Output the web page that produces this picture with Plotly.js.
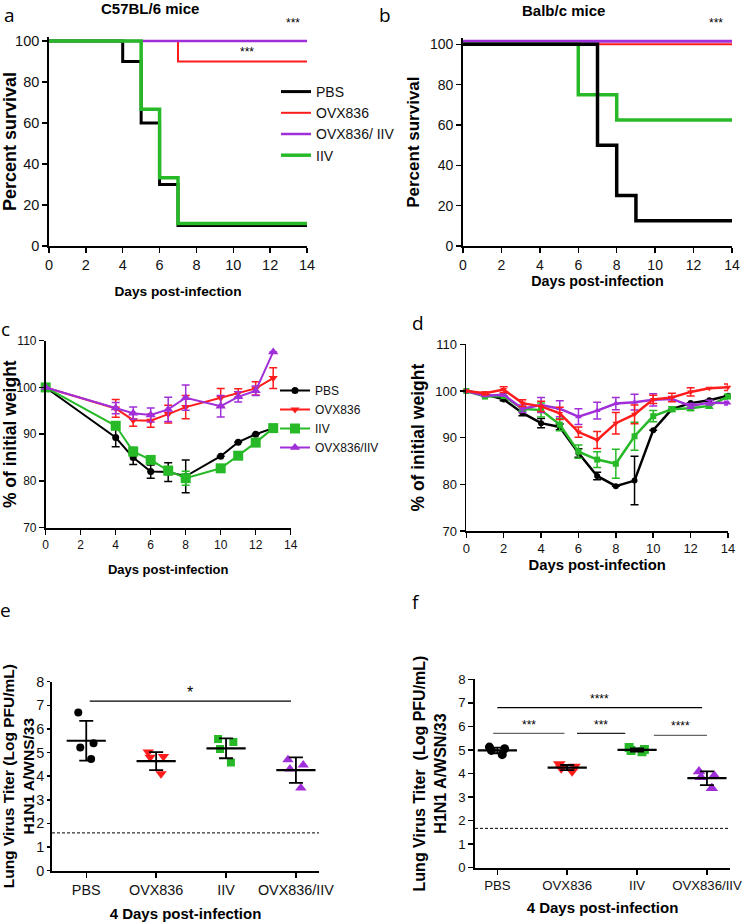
<!DOCTYPE html>
<html>
<head>
<meta charset="utf-8">
<script src="https://cdn.plot.ly/plotly-3.0.1.min.js"></script>
<style>
  html, body { margin: 0; padding: 0; background: #fff; }
  #fig { width: 747px; height: 924px; }
</style>
</head>
<body>
<div id="fig"></div>
<script>
"use strict";

// ---- colours (GraphPad style) ----
const cBlack = '#000000', cRed = '#ff1c1c', cPurple = '#a12fd9', cGreen = '#27b927';

// ---- a: survival, C57BL/6 ----
const aPbsX = [0, 4, 5, 6, 7, 14],  aPbsY = [100, 90, 60, 30, 10, 10];
const aOvxX = [0, 7, 14],           aOvxY = [100, 90, 90];
const aComboX = [0, 14],            aComboY = [100, 100];
const aIivX = [0, 5, 6, 7, 14],     aIivY = [100, 66.7, 33.3, 11, 11];

// ---- b: survival, Balb/c ----
const bPbsX = [0, 7, 8, 9, 14],     bPbsY = [100, 50, 25, 12.5, 12.5];
const bOvxX = [0, 14],              bOvxY = [100, 100];
const bComboX = [0, 14],            bComboY = [101.5, 101.5];
const bIivX = [0, 6, 8, 14],        bIivY = [100, 75, 62.5, 62.5];

// ---- c: weight, C57BL/6 ----
const cDays = [0, 4, 5, 6, 7, 8, 10, 11, 12, 13];
const cPbs   = [100, 89.3, 85.0, 82.0, 81.9, 81.0, 85.3, 88.3, 90.0, 91.3];
const cPbsE  = [0, 2.0, 1.5, 1.4, 2.0, 3.5, 0, 0, 0, 0];
const cOvx   = [100, 95.5, 93.0, 92.9, 94.3, 95.8, 97.8, 98.8, 99.8, 102.0];
const cOvxE  = [0, 1.9, 1.3, 1.4, 1.9, 2.5, 2.0, 0.9, 1.4, 2.2];
const cIiv   = [100, 91.8, 86.3, 84.5, 82.2, 80.6, 82.7, 85.4, 88.2, 91.3];
const cIivE  = [0, 0.7, 0.9, 0.7, 0.9, 1.5, 0, 0, 0, 0];
const cCombo = [100, 95.6, 94.5, 94.1, 95.3, 97.8, 96.0, 98.0, 99.3, 107.6];
const cComboE= [0, 1.2, 1.3, 1.5, 2.6, 2.7, 2.3, 1.1, 1.0, 0];

// ---- d: weight, Balb/c ----
const dDays = [0, 1, 2, 3, 4, 5, 6, 7, 8, 9, 10, 11, 12, 13, 14];
const dPbs   = [100, 99.3, 98.2, 95.3, 93.1, 92.3, 86.7, 81.8, 79.6, 80.8, 91.6, 96.1, 97.4, 98.0, 99.0];
const dPbsE  = [0, 0, 0.3, 0.6, 1.0, 0.6, 0.9, 0.8, 0, 5.2, 0, 0, 0, 0, 0];
const dOvx   = [100, 99.5, 100.3, 97.4, 96.7, 95.2, 91.2, 89.5, 93.1, 95.0, 98.2, 98.6, 99.8, 100.6, 100.8];
const dOvxE  = [0, 0.3, 0.6, 0.7, 1.1, 1.3, 1.1, 1.8, 2.3, 2.0, 0.9, 0.9, 0.9, 0, 0.7];
const dIiv   = [100, 98.8, 98.9, 96.2, 95.9, 92.8, 87.0, 85.3, 84.4, 90.3, 94.6, 96.1, 96.3, 96.8, 98.8];
const dIivE  = [0, 0, 0, 0.5, 1.5, 1.3, 1.4, 1.7, 3.1, 3.0, 1.2, 0.5, 0.5, 0.5, 0.5];
const dCombo = [100, 99.0, 99.2, 96.2, 97.0, 96.2, 94.5, 95.8, 97.3, 97.6, 98.1, 98.3, 96.8, 97.5, 97.4];
const dComboE= [0, 0, 0.3, 0.8, 1.6, 1.7, 1.7, 1.8, 1.3, 1.7, 1.3, 0.5, 0.5, 0.5, 0.4];

// ---- e / f: lung titers ----
const groups = ['PBS', 'OVX836', 'IIV', 'OVX836/IIV'];
const ePbs = [6.7, 5.39, 5.21, 4.73], eOvx = [4.8, 4.83, 5.02, 4.1];
const eIiv = [5.57, 5.45, 5.15, 4.58], eCombo = [4.47, 4.7, 4.3, 3.5];
const eMean = [5.5, 4.64, 5.18, 4.26], eSd = [0.84, 0.38, 0.42, 0.54];
const eLimit = 1.6;
const eSig = [{from: 0.05, to: 2.93, y: 7.18, label: '*'}];

const fPbs = [4.8, 4.98, 5.05, 5.12], fOvx = [4.1, 4.22, 4.3, 4.4];
const fIiv = [4.92, 4.98, 5.02, 5.1], fCombo = [3.37, 3.84, 3.9, 4.08];
const fMean = [4.98, 4.25, 5.0, 3.8], fSd = [0.12, 0.11, 0.07, 0.29];
const fLimit = 1.67;
const fSig = [
  {from: 0,     to: 2.93, y: 6.8,  label: '****', color: '#000'},
  {from: -0.06, to: 0.96, y: 5.7,  label: '***',  color: '#666'},
  {from: 1.14,  to: 1.83, y: 5.7,  label: '***',  color: '#222'},
  {from: 2.24,  to: 3.0,  y: 5.62, label: '****', color: '#666'}
];

// ---- geometry helpers (page pixels -> paper fractions) ----
const W = 747, H = 924;
const xd = (l, r) => [l / W, r / W];
const yd = (t, b) => [1 - b / H, 1 - t / H];
const px = v => v / W, py = v => 1 - v / H;

const FONT = 'Liberation Sans, Arial, sans-serif';

function axis(tick, extra) {
  return Object.assign({
    showline: true, linecolor: '#000', linewidth: 1.8,
    ticks: 'outside', ticklen: 5, tickwidth: 1.5, tickcolor: '#000',
    showgrid: false, zeroline: false, fixedrange: true,
    tickfont: {family: FONT, size: tick, color: '#111'}
  }, extra);
}
function atitle(text, size, standoff) {
  return {text: text, font: {family: FONT, size: size, color: '#000', weight: 'bold'}, standoff: standoff};
}

const traces = [];

// survival step lines
function surv(x, y, color, width, name, xa, ya, legend) {
  traces.push({x: x, y: y, type: 'scatter', mode: 'lines', line: {shape: 'hv', color: color, width: width},
    name: name, xaxis: xa, yaxis: ya, showlegend: !!legend, legend: 'legend', hoverinfo: 'skip'});
}
surv(aPbsX, aPbsY, cBlack, 3, 'PBS', 'x', 'y', true);
surv(aOvxX, aOvxY, cRed, 2, 'OVX836', 'x', 'y', true);
surv(aComboX, aComboY, cPurple, 2.5, 'OVX836/ IIV', 'x', 'y', true);
surv(aIivX, aIivY, cGreen, 3.5, 'IIV', 'x', 'y', true);
surv(bComboX, bComboY, cPurple, 3, 'OVX836/ IIV', 'x2', 'y2', false);
surv(bOvxX, bOvxY, cRed, 2, 'OVX836', 'x2', 'y2', false);
surv(bIivX, bIivY, cGreen, 3.5, 'IIV', 'x2', 'y2', false);
surv(bPbsX, bPbsY, cBlack, 3.5, 'PBS', 'x2', 'y2', false);

// weight curves
function weight(x, y, e, color, symbol, size, name, xa, ya, legend, lw) {
  traces.push({x: x, y: y, type: 'scatter', mode: 'lines+markers', name: name,
    line: {color: color, width: lw},
    marker: {color: color, symbol: symbol, size: size},
    error_y: {type: 'data', array: e, visible: true, color: color, thickness: 1.5, width: 4},
    xaxis: xa, yaxis: ya, showlegend: !!legend, legend: 'legend2', cliponaxis: false, hoverinfo: 'skip'});
}
weight(cDays, cPbs, cPbsE, cBlack, 'circle', 7, 'PBS', 'x3', 'y3', true, 2);
weight(cDays, cOvx, cOvxE, cRed, 'triangle-down', 8, 'OVX836', 'x3', 'y3', true, 2);
weight(cDays, cIiv, cIivE, cGreen, 'square', 10, 'IIV', 'x3', 'y3', true, 2);
weight(cDays, cCombo, cComboE, cPurple, 'triangle-up', 9, 'OVX836/IIV', 'x3', 'y3', true, 2);

weight(dDays, dPbs, dPbsE, cBlack, 'circle', 6, 'PBS', 'x4', 'y4', false, 2.5);
weight(dDays, dIiv, dIivE, cGreen, 'square', 6, 'IIV', 'x4', 'y4', false, 2.5);
weight(dDays, dCombo, dComboE, cPurple, 'triangle-up', 6, 'OVX836/IIV', 'x4', 'y4', false, 2.5);
weight(dDays, dOvx, dOvxE, cRed, 'triangle-down', 6, 'OVX836', 'x4', 'y4', false, 2.5);

// titer dot plots: points jittered by the box trace, box itself hidden
function dots(vals, group, color, symbol, size, xa, ya) {
  traces.push({type: 'box', x: vals.map(() => group), y: vals, boxpoints: 'all', jitter: 0.55, pointpos: 0,
    fillcolor: 'rgba(0,0,0,0)', line: {width: 0, color: 'rgba(0,0,0,0)'}, whiskerwidth: 0,
    marker: {color: color, symbol: symbol, size: size}, xaxis: xa, yaxis: ya, showlegend: false, hoverinfo: 'skip'});
}
function meanSd(mean, sd, xa, ya) {
  traces.push({type: 'scatter', mode: 'markers', x: groups, y: mean, xaxis: xa, yaxis: ya,
    marker: {symbol: 'line-ew', size: 28, color: '#000', line: {width: 2.2, color: '#000'}},
    error_y: {type: 'data', array: sd, visible: true, color: '#000', thickness: 1.8, width: 7},
    showlegend: false, hoverinfo: 'skip', cliponaxis: false});
}
dots(ePbs, 'PBS', cBlack, 'circle', 8, 'x5', 'y5');
dots(eOvx, 'OVX836', cRed, 'triangle-down', 10, 'x5', 'y5');
dots(eIiv, 'IIV', cGreen, 'square', 8, 'x5', 'y5');
dots(eCombo, 'OVX836/IIV', cPurple, 'triangle-up', 10, 'x5', 'y5');
meanSd(eMean, eSd, 'x5', 'y5');

dots(fPbs, 'PBS', cBlack, 'circle', 9, 'x6', 'y6');
dots(fOvx, 'OVX836', cRed, 'triangle-down', 11, 'x6', 'y6');
dots(fIiv, 'IIV', cGreen, 'square', 9, 'x6', 'y6');
dots(fCombo, 'OVX836/IIV', cPurple, 'triangle-up', 11, 'x6', 'y6');
meanSd(fMean, fSd, 'x6', 'y6');

// ---- shapes + annotations ----
const shapes = [];
const annotations = [];
function note(text, x, y, size, extra) {
  annotations.push(Object.assign({text: text, x: x, y: y, xref: 'paper', yref: 'paper', showarrow: false,
    font: {family: FONT, size: size, color: '#000'}, xanchor: 'center', yanchor: 'middle'}, extra || {}));
}

[[eLimit, 'x5', 'y5'], [fLimit, 'x6', 'y6']].forEach(([lvl, xa, ya]) => {
  shapes.push({type: 'line', xref: xa + ' domain', yref: ya, x0: 0, x1: 1, y0: lvl, y1: lvl,
    line: {color: '#000', width: 1, dash: '3px,2px'}});
});
function sig(list, xa, ya, size) {
  list.forEach(s => {
    shapes.push({type: 'line', xref: xa, yref: ya, x0: s.from, x1: s.to, y0: s.y, y1: s.y,
      line: {color: s.color || '#000', width: 1.2}});
    annotations.push({text: s.label, xref: xa, yref: ya, x: (s.from + s.to) / 2, y: s.y + 0.38,
      showarrow: false, font: {family: FONT, size: size, color: '#000'}});
  });
}
sig(eSig, 'x5', 'y5', 16);
sig(fSig, 'x6', 'y6', 12);

// significance stars on survival panels (above the plot area, so paper coords)
note('***', px(293), py(23), 12);
note('***', px(247), py(52), 12);
note('***', px(716), py(23), 12);

// panel titles and letters
note('<b>C57BL/6 mice</b>', px(150), py(9), 15);
note('<b>Balb/c mice</b>', px(563), py(10), 15);
const LET = {family: 'Open Sans, sans-serif', size: 19, color: '#000'};
note('a', px(9), 1, 19, {font: LET, yanchor: 'top'});
note('b', px(385), 1, 19, {font: LET, yanchor: 'top'});
note('c', px(5), py(329), 19, {font: LET});
note('d', px(418), py(323), 19, {font: LET});
note('e', px(5), py(610), 19, {font: LET});
note('f', px(416), py(602), 19, {font: LET});

const layout = {
  width: W, height: H, margin: {l: 0, r: 0, t: 0, b: 0},
  paper_bgcolor: '#fff', plot_bgcolor: '#fff',
  font: {family: FONT, color: '#000'},
  boxmode: 'overlay',
  shapes: shapes, annotations: annotations,
  legend: {x: px(276), y: py(76), xanchor: 'left', yanchor: 'top', bgcolor: 'rgba(0,0,0,0)',
    font: {family: FONT, size: 14, color: '#111'}, tracegroupgap: 0, itemwidth: 30},
  legend2: {x: px(275), y: py(376), xanchor: 'left', yanchor: 'top', bgcolor: 'rgba(0,0,0,0)',
    font: {family: FONT, size: 12, color: '#111'}, tracegroupgap: 0, itemwidth: 30},

  xaxis:  axis(14.5, {domain: xd(49, 307), range: [0, 14], dtick: 2, anchor: 'y', title: atitle('Days post-infection', 13.7, 14)}),
  yaxis:  axis(14.5, {domain: yd(246 - 102 * 2.05, 246), range: [0, 102], tickvals: [0, 20, 40, 60, 80, 100], anchor: 'x',
                title: atitle('Percent survival', 18, 6)}),
  xaxis2: axis(14, {domain: xd(463, 732), range: [0, 14], dtick: 2, anchor: 'y2', title: atitle('Days post-infection', 14.3, 4)}),
  yaxis2: axis(14, {domain: yd(246 - 103 * 2.017, 246), range: [0, 103], tickvals: [0, 20, 40, 60, 80, 100], anchor: 'x2',
                title: atitle('Percent survival', 17, 6)}),
  xaxis3: axis(12, {domain: xd(45.7, 290.7), range: [0, 14], dtick: 2, anchor: 'y3', title: atitle('Days post-infection', 13, 14)}),
  yaxis3: axis(12, {domain: yd(340.7, 527.7), range: [70, 110], dtick: 10, anchor: 'x3', title: atitle('% of initial weight', 17.5, 6)}),
  xaxis4: axis(13, {domain: xd(466.3, 728), range: [0, 14], dtick: 2, anchor: 'y4', title: atitle('Days post-infection', 14.8, 4)}),
  yaxis4: axis(13, {domain: yd(344.3, 531), range: [70, 110], dtick: 10, anchor: 'x4', title: atitle('% of initial weight', 17.5, 6)}),
  xaxis5: axis(14.4, {domain: xd(52, 319), type: 'category', categoryorder: 'array', categoryarray: groups,
                range: [-0.49, 3.33], anchor: 'y5', title: atitle('4 Days post-infection', 15, 12)}),
  yaxis5: axis(14.4, {domain: yd(681.7, 870.7), range: [0, 8], dtick: 1, anchor: 'x5', ticklen: 3,
                title: atitle('Lung Virus Titer (Log PFU/mL)<br>H1N1 A/WNS/33', 15.5, 8)}),
  xaxis6: axis(13.2, {domain: xd(475, 730), type: 'category', categoryorder: 'array', categoryarray: groups,
                range: [-0.32, 3.33], anchor: 'y6', title: atitle('4 Days post-infection', 15, 10)}),
  yaxis6: axis(13.2, {domain: yd(679.3, 867.7), range: [0, 8], dtick: 1, anchor: 'x6',
                title: atitle('Lung Virus Titer  (Log PFU/mL)<br>H1N1 A/WSN/33', 16, 8)})
};

Plotly.newPlot('fig', traces, layout, {staticPlot: true});
</script>
</body>
</html>
